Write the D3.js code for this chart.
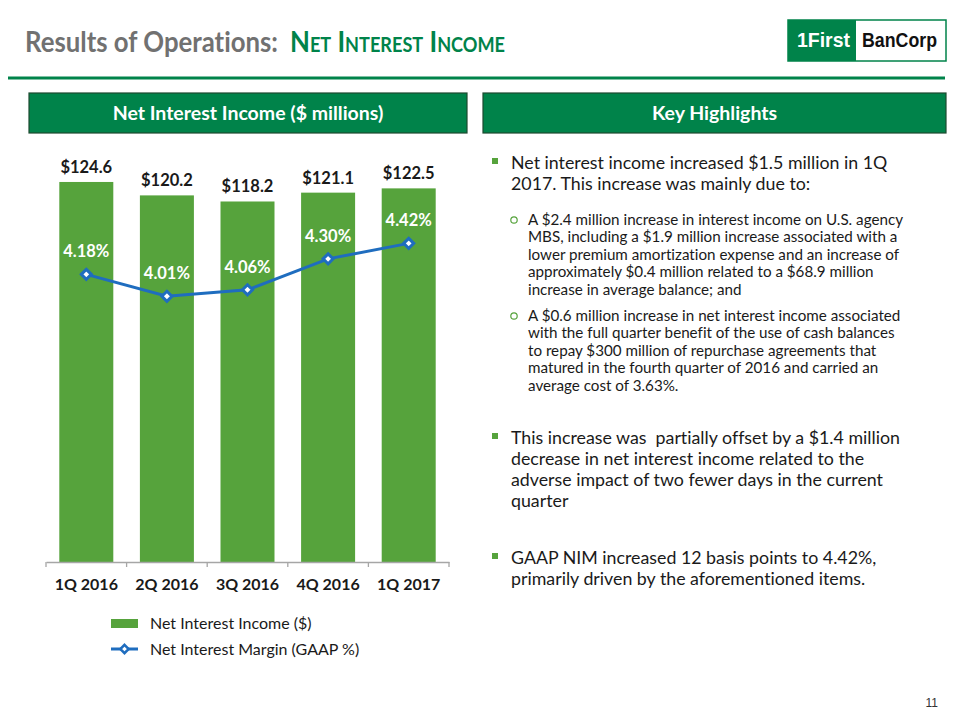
<!DOCTYPE html>
<html><head><meta charset="utf-8">
<script src="https://cdn.jsdelivr.net/npm/d3@7/dist/d3.min.js"></script>
<style>body{margin:0;background:#fff}svg{display:block}text{font-variant-ligatures:none}</style>
</head><body>
<svg id="c" width="960" height="720"></svg>
<script>
const categories = ["1Q 2016","2Q 2016","3Q 2016","4Q 2016","1Q 2017"];
const incomeValues = [124.6,120.2,118.2,121.1,122.5];
const incomeLabels = ["$124.6","$120.2","$118.2","$121.1","$122.5"];
const marginValues = [4.18,4.01,4.06,4.30,4.42];
const marginLabels = ["4.18%","4.01%","4.06%","4.30%","4.42%"];
const legendLabels = ["Net Interest Income ($)","Net Interest Margin (GAAP %)"];

const FONT = "Lato, 'Open Sans', sans-serif";
const GREEN_DARK = "#00834a", BAR = "#56a33c", BLUE = "#1f6dbf", TXT = "#1a1a1a";
const svg = d3.select("#c");

// Title
svg.append("text").attr("x",25).attr("y",51.5).attr("font-family",FONT).attr("font-weight","bold")
  .attr("fill","#717171").attr("font-size",28.5).attr("textLength",253).attr("lengthAdjust","spacingAndGlyphs").text("Results of Operations:");
svg.append("text").attr("x",290).attr("y",51.5).attr("font-family",FONT).attr("font-weight","bold").attr("fill",GREEN_DARK)
  .attr("font-size",28.5).style("font-variant-caps","small-caps")
  .attr("textLength",215).attr("lengthAdjust","spacingAndGlyphs").text("Net Interest Income");
svg.append("rect").attr("x",8).attr("y",76.5).attr("width",937).attr("height",3).attr("fill",GREEN_DARK);

// Logo
svg.append("rect").attr("x",788).attr("y",20).attr("width",158).attr("height",41).attr("fill","#fff").attr("stroke",GREEN_DARK).attr("stroke-width",1.5);
svg.append("rect").attr("x",788).attr("y",20).attr("width",68).attr("height",41).attr("fill",GREEN_DARK);
svg.append("text").attr("x",797).attr("y",47).attr("fill","#fff").attr("font-family","'Liberation Sans', Arial").attr("font-weight","bold").attr("font-size",21).attr("textLength",53).attr("lengthAdjust","spacingAndGlyphs").text("1First");
svg.append("text").attr("x",862).attr("y",47).attr("fill","#111").attr("font-family","'Liberation Sans', Arial").attr("font-weight","bold").attr("font-size",21).attr("textLength",75).attr("lengthAdjust","spacingAndGlyphs").text("BanCorp");

// Header boxes
[[29,438,"Net Interest Income ($ millions)"],[483,463,"Key Highlights"]].forEach(([x,w,s])=>{
  svg.append("rect").attr("x",x).attr("y",93).attr("width",w).attr("height",40).attr("fill",GREEN_DARK).attr("stroke","#1d4a30").attr("stroke-width",1.2);
  svg.append("text").attr("x",x+w/2).attr("y",120).attr("text-anchor","middle").attr("fill","#fff").attr("font-family",FONT).attr("font-weight","bold").attr("font-size",19.5).text(s);
});

// Chart
const x = d3.scaleBand().domain(categories).range([46,449]).paddingInner(0.33).paddingOuter(0.165);
const y = d3.scaleLinear().domain([0,130]).range([562,562-130*3.05]);
const y2 = d3.scaleLinear().domain([1.95,4.65]).range([562,562-2.7*129]);

svg.append("g").selectAll("rect").data(incomeValues).join("rect")
  .attr("x",(d,i)=>x(categories[i])).attr("width",x.bandwidth())
  .attr("y",d=>y(d)).attr("height",d=>y(0)-y(d)).attr("fill",BAR);

svg.append("g").selectAll("text").data(incomeValues).join("text")
  .attr("x",(d,i)=>x(categories[i])+x.bandwidth()/2).attr("y",d=>y(d)-9)
  .attr("text-anchor","middle").attr("font-family",FONT).attr("font-weight","bold").attr("font-size",16.5).attr("fill",TXT)
  .text((d,i)=>incomeLabels[i]);

// x axis
const xAxis = d3.axisBottom(x).tickSize(0).tickPadding(17);
const ag = svg.append("g").attr("transform","translate(0,562)").call(xAxis);
ag.select(".domain").attr("stroke","#a6a6a6").attr("stroke-width",1.3);
ag.selectAll("text").attr("font-family",FONT).attr("font-weight","bold").attr("font-size",16).attr("fill",TXT);
const bounds = d3.range(categories.length+1).map(i=>46+i*((449-46)/categories.length));
ag.selectAll(".bt").data(bounds).join("line").attr("x1",d=>d).attr("x2",d=>d).attr("y1",0).attr("y2",5).attr("stroke","#a6a6a6").attr("stroke-width",1.3);

// line
const cx = (i)=>x(categories[i])+x.bandwidth()/2;
const line = d3.line().x((d,i)=>cx(i)).y(d=>y2(d));
svg.append("path").datum(marginValues).attr("d",line).attr("fill","none").attr("stroke",BLUE).attr("stroke-width",3);
const diamond = d3.symbol().type(d3.symbolDiamond2).size(64);
svg.append("g").selectAll("path").data(marginValues).join("path")
  .attr("d",diamond).attr("transform",(d,i)=>`translate(${cx(i)},${y2(d)})`)
  .attr("fill","#fff").attr("stroke",BLUE).attr("stroke-width",3);
svg.append("g").selectAll("text").data(marginValues).join("text")
  .attr("x",(d,i)=>cx(i)).attr("y",d=>y2(d)-17)
  .attr("text-anchor","middle").attr("font-family",FONT).attr("font-weight","bold").attr("font-size",16.5).attr("fill","#fff")
  .text((d,i)=>marginLabels[i]);

// Legend
svg.append("rect").attr("x",111).attr("y",619).attr("width",27).attr("height",9).attr("fill",BAR);
svg.append("text").attr("x",150).attr("y",629).attr("font-family",FONT).attr("font-size",16).attr("fill",TXT).text(legendLabels[0]);
svg.append("line").attr("x1",111).attr("x2",138).attr("y1",649).attr("y2",649).attr("stroke",BLUE).attr("stroke-width",3);
svg.append("path").attr("d",d3.symbol().type(d3.symbolDiamond2).size(44)).attr("transform","translate(124.5,649)").attr("fill","#fff").attr("stroke",BLUE).attr("stroke-width",2.5);
svg.append("text").attr("x",150).attr("y",655).attr("font-family",FONT).attr("font-size",16).attr("fill",TXT).text(legendLabels[1]);

// Right side text
const main = [
  {y:169, lines:["Net interest income increased $1.5 million in 1Q","2017. This increase was mainly due to:"]},
  {y:444, lines:["This increase was  partially offset by a $1.4 million","decrease in net interest income related to the","adverse impact of two fewer days in the current","quarter"]},
  {y:564, lines:["GAAP NIM increased 12 basis points to 4.42%,","primarily driven by the aforementioned items."]}
];
main.forEach(b=>{
  svg.append("rect").attr("x",492).attr("y",b.y-11).attr("width",6).attr("height",6).attr("fill",BAR);
  b.lines.forEach((s,i)=>svg.append("text").attr("x",511).attr("y",b.y+i*21).attr("font-family",FONT).attr("font-size",17.8).attr("fill",TXT).style("white-space","pre").text(s));
});
const subs = [
  {y:225, lines:["A $2.4 million increase in interest income on U.S. agency","MBS, including a $1.9 million increase associated with a","lower premium amortization expense and an increase of","approximately $0.4 million related to a $68.9 million","increase in average balance; and"]},
  {y:321, lines:["A $0.6 million increase in net interest income associated","with the full quarter benefit of the use of cash balances","to repay $300 million of repurchase agreements that","matured in the fourth quarter of 2016 and carried an","average cost of 3.63%."]}
];
subs.forEach(b=>{
  svg.append("circle").attr("cx",514).attr("cy",b.y-5).attr("r",3.2).attr("fill","none").attr("stroke",BAR).attr("stroke-width",1.2);
  b.lines.forEach((s,i)=>svg.append("text").attr("x",528).attr("y",b.y+i*17.4).attr("font-family",FONT).attr("font-size",15.2).attr("fill",TXT).text(s));
});
svg.append("text").attr("x",938).attr("y",707).attr("text-anchor","end").attr("font-family","'Liberation Sans', Arial").attr("font-size",12).attr("fill","#333").text("11");
</script>
</body></html>
